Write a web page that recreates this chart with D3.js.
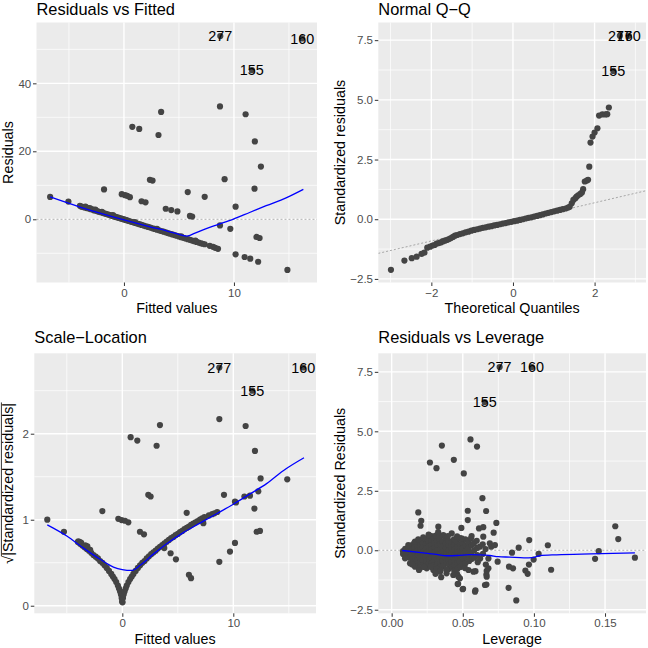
<!DOCTYPE html>
<html><head><meta charset="utf-8">
<script src="https://cdn.jsdelivr.net/npm/d3@7"></script>
<style>
body{margin:0;background:#fff}
svg{display:block}
text{font-family:"Liberation Sans",Arial,Helvetica,sans-serif}
</style>
</head><body>
<svg id="chart" width="648" height="648"></svg>
<script>
// ---------- DATA ----------
const outlierIds = ["277", "155", "160"];

// Panel 1: Residuals vs Fitted  [fitted, residual]
const rvfPoints = [
 [-6.71,6.57],[-5.05,5.2],[-1.81,8.8],[0.76,27.2],[1.39,26.6],[3.38,31.6],[3.14,24.8],[2.36,11.6],[2.6,11.4],
 [-0.2,7.4],[0.1,7.1],[0.3,6.9],[0.54,6.5],[1.6,5.3],[1.96,5.0],[3.8,3.1],[4.3,2.7],[4.86,2.3],[6.0,1.0],[6.2,0.8],
 [5.8,8.0],[7.34,6.6],[8.73,33.2],[9.15,11.8],[8.73,-1.8],[9.67,-2.8],[10.15,3.7],[10.15,-10.3],[11.06,30.9],
 [10.97,-11.1],[11.48,-11.6],[11.9,22.9],[11.87,9.0],[12.05,-5.2],[12.33,-5.5],[12.45,15.5],[12.2,-12.5],[14.86,-14.9],
 [-4.0,3.95],[-3.85,3.7],[-3.7,3.6],[-3.55,3.5],[-3.4,3.3],[-3.3,3.35],[-3.15,3.1],[-3.0,2.95],[-2.85,2.9],[-2.7,2.6],
 [-2.55,2.55],[-2.4,2.35],[-2.25,2.2],[-2.1,2.1],[-1.95,1.9],[-1.8,1.75],[-1.65,1.6],[-1.5,1.45],[-1.35,1.3],[-1.2,1.15],
 [-1.05,1.0],[-0.9,0.85],[-0.75,0.7],[-0.6,0.55],[-0.45,0.4],[-0.3,0.25],[-0.15,0.1],[0.0,-0.05],[0.15,-0.2],[0.3,-0.35],
 [0.45,-0.5],[0.6,-0.65],[0.75,-0.8],[0.9,-0.95],[1.05,-1.1],[1.2,-1.25],[1.4,-1.45],[1.6,-1.65],[1.8,-1.85],[2.0,-2.05],
 [2.2,-2.25],[2.4,-2.45],[2.6,-2.65],[2.8,-2.85],[3.0,-3.05],[3.2,-3.25],[3.4,-3.45],[3.6,-3.65],[3.8,-3.85],[4.0,-4.05],
 [4.2,-4.25],[4.4,-4.45],[4.6,-4.65],[4.8,-4.85],[5.0,-5.05],[5.2,-5.25],[5.4,-5.45],[5.6,-5.65],[5.8,-5.85],[6.0,-6.05],
 [6.2,-6.25],[6.4,-6.45],[6.6,-6.65],[6.8,-6.85],[7.0,-7.05],[7.15,-7.2],[7.34,-7.35],[7.8,-7.8],[8.1,-8.1],[8.3,-8.4],[8.55,-8.7],
 [-3.5,3.75],[-3.1,3.3],[-2.6,2.85],[-2.0,2.2],[-1.0,1.2],[1.0,-0.85],[3.0,-2.85],[5.2,-5.05],[6.5,-6.3]
];
const rvfOutliers = [[8.76,53.9],[11.63,43.9],[16.2,53.2]];
const rvfSmooth = [[-6.71,6.57],[-4.0,3.6],[-2.18,1.8],[0,-0.2],[2.36,-2.2],[3.87,-3.4],[5.08,-4.5],[5.4,-4.8],[5.68,-4.95],
 [6.0,-4.75],[6.4,-4.15],[7.19,-3.1],[8.4,-1.7],[9.9,0],[11.42,2.0],[12.93,4.0],[14.74,6.3],[16.31,8.8]];
const fittedTicks = [0, 10];
const residTicks = [0, 20, 40];

// Panel 2: Normal Q-Q  [theoretical quantile, standardized residual]
const qqPoints = [
 [-2.99,-2.12],[-2.66,-1.73],[-2.48,-1.63],[-2.36,-1.57],[-2.24,-1.45],[-2.17,-1.40],[-2.1,-1.19],[-2.03,-1.15],[-1.97,-1.1],
 [-1.92,-1.08],[-1.87,-1.02],[-1.82,-1.0],[-1.77,-0.97],[-1.72,-0.93],[-1.67,-0.9],[-1.62,-0.87],[-1.57,-0.83],[-1.52,-0.79],
 [-1.47,-0.74],[-1.42,-0.69],[-1.37,-0.66],[-1.3,-0.62],[-1.23,-0.59],[-1.16,-0.55],[-1.09,-0.52],[-1.02,-0.48],[-0.95,-0.45],
 [-0.88,-0.42],[-0.81,-0.39],[-0.74,-0.36],[-0.67,-0.34],[-0.6,-0.31],[-0.53,-0.29],[-0.46,-0.26],[-0.39,-0.24],[-0.32,-0.21],
 [-0.25,-0.18],[-0.18,-0.16],[-0.11,-0.13],[-0.04,-0.11],[0.03,-0.08],[0.1,-0.06],[0.17,-0.03],[0.24,0.0],[0.31,0.03],
 [0.38,0.06],[0.45,0.08],[0.52,0.11],[0.59,0.14],[0.66,0.17],[0.73,0.2],[0.8,0.24],[0.87,0.27],[0.94,0.3],[1.01,0.33],
 [1.08,0.36],[1.15,0.39],[1.22,0.42],[1.29,0.45],[1.35,0.49],[1.39,0.52],
 [1.44,0.67],[1.48,0.81],[1.53,0.88],[1.56,0.95],[1.6,1.0],[1.65,1.06],[1.69,1.12],[1.72,1.26],[1.76,1.58],[1.81,1.62],
 [1.84,1.65],[1.87,2.2],[1.9,3.21],[1.95,3.46],[2.0,3.63],[2.07,3.81],[2.11,4.34],[2.19,4.39],[2.27,4.39],[2.31,4.4],[2.35,4.68]
];
const qqOutliers = [[2.62,7.68],[2.46,6.21],[2.84,7.68]];
const qqLine = [-0.11, 0.40]; // intercept, slope
const qqXTicks = [-2, 0, 2];
const stdTicks = [-2.5, 0, 2.5, 5, 7.5];

// Panel 3: Scale-Location  [fitted, sqrt(|standardized residual|)]
const slPoints = [
 [-6.76,1.0],[-5.26,0.86],[-3.96,0.75],[-3.81,0.74],[-3.36,0.70],[-3.15,0.69],[-1.8,1.1],[-0.36,1.01],[-0.06,0.996],
 [0.24,0.988],[0.54,0.97],[0.75,1.96],[1.35,1.92],[3.09,1.86],[3.39,2.1],[2.34,1.29],[2.55,1.27],[1.59,0.86],[1.95,0.83],
 [3.78,0.67],[4.35,0.61],[4.83,0.54],[6.0,0.36],[6.19,0.32],[5.8,1.08],[7.3,0.96],[8.74,2.17],[9.16,1.29],[8.74,0.51],
 [9.7,0.63],[10.15,1.21],[10.24,1.2],[10.15,0.73],[11.11,2.09],[11.0,1.27],[11.5,1.28],[11.95,1.8],[11.9,1.13],[12.1,0.86],
 [12.4,0.87],[12.25,1.33],[12.46,1.48],[14.86,1.47],
 [-4.0,0.74],[-3.8,0.72],[-3.6,0.70],[-3.4,0.68],[-3.2,0.66],[-3.0,0.64],[-2.8,0.615],[-2.6,0.59],[-2.4,0.57],[-2.2,0.55],
 [-2.0,0.52],[-1.8,0.50],[-1.6,0.47],[-1.4,0.44],[-1.2,0.405],[-1.0,0.37],[-0.85,0.34],[-0.7,0.31],[-0.55,0.275],[-0.4,0.235],
 [-0.3,0.2],[-0.2,0.165],[-0.12,0.13],[-0.06,0.09],[-0.02,0.05],[0.02,0.04],[0.06,0.09],[0.12,0.13],[0.2,0.165],[0.3,0.2],
 [0.4,0.235],[0.55,0.275],[0.7,0.31],[0.85,0.34],[1.0,0.37],[1.2,0.405],[1.4,0.44],[1.6,0.47],[1.8,0.50],[2.0,0.52],
 [2.2,0.55],[2.4,0.575],[2.6,0.6],[2.8,0.62],[3.0,0.64],[3.2,0.665],[3.4,0.685],[3.6,0.705],[3.8,0.725],[4.0,0.745],
 [4.2,0.765],[4.4,0.785],[4.6,0.80],[4.8,0.82],[5.0,0.835],[5.2,0.855],[5.4,0.87],[5.6,0.89],[5.8,0.905],[6.0,0.92],
 [6.2,0.94],[6.4,0.955],[6.6,0.97],[6.8,0.985],[7.0,1.0],[7.2,1.015],[7.4,1.03],[7.8,1.05],[8.1,1.065],[8.3,1.075],[8.55,1.09],
 [-3.7,0.73],[-3.3,0.70],[-2.9,0.65]
];
const slOutliers = [[8.74,2.77],[11.71,2.5],[16.3,2.77]];
const slSmooth = [[-6.76,0.94],[-5.0,0.81],[-3.5,0.67],[-2.0,0.54],[-0.8,0.45],[0,0.42],[0.84,0.41],[1.6,0.47],[2.8,0.6],
 [4.0,0.72],[5.5,0.85],[7.0,0.96],[8.5,1.07],[10.0,1.18],[11.5,1.3],[13.0,1.42],[14.5,1.57],[16.37,1.72]];
const slYTicks = [0, 1, 2];

// Panel 4: Residuals vs Leverage  [leverage, standardized residual]
const rvlPoints = [
 [0.008,-0.04],[0.008,-0.16],[0.0095,0.06],[0.0098,-0.1],[0.010,-0.26],
 [0.0118,0.13],[0.012,-0.04],[0.0122,-0.2],[0.0125,-0.31],
 [0.0138,0.21],[0.014,0.03],[0.0142,-0.14],[0.0145,-0.36],
 [0.0158,0.3],[0.016,0.1],[0.0162,-0.08],[0.0165,-0.26],[0.0168,-0.46],
 [0.0178,0.36],[0.018,0.16],[0.0182,-0.02],[0.0185,-0.21],[0.0178,-0.41],[0.0183,-0.56],
 [0.0198,0.42],[0.020,0.23],[0.0202,0.05],[0.0205,-0.13],[0.0199,-0.31],[0.0203,-0.5],
 [0.0218,0.31],[0.022,0.12],[0.0222,-0.06],[0.0225,-0.23],[0.0219,-0.43],[0.0221,-0.62],
 [0.0238,0.46],[0.024,0.26],[0.0242,0.08],[0.0245,-0.11],[0.0239,-0.29],[0.0243,-0.49],
 [0.0258,0.52],[0.026,0.35],[0.0262,0.16],[0.0265,-0.02],[0.0259,-0.19],[0.0263,-0.39],[0.026,-0.58],
 [0.0278,0.41],[0.028,0.21],[0.0282,0.03],[0.0285,-0.15],[0.0279,-0.33],[0.0283,-0.53],[0.028,-0.7],
 [0.0298,0.49],[0.030,0.3],[0.0302,0.11],[0.0305,-0.08],[0.0299,-0.26],[0.0303,-0.45],[0.030,-0.63],
 [0.0318,0.38],[0.032,0.19],[0.0322,0.0],[0.0325,-0.18],[0.0319,-0.38],[0.0323,-0.58],
 [0.0338,0.46],[0.034,0.26],[0.0342,0.05],[0.0345,-0.12],[0.0339,-0.31],[0.0343,-0.5],[0.034,-0.7],
 [0.0358,0.36],[0.036,0.15],[0.0362,-0.05],[0.0365,-0.25],[0.0359,-0.45],[0.0363,-0.66],
 [0.0378,0.5],[0.038,0.28],[0.0382,0.08],[0.0385,-0.12],[0.0379,-0.32],[0.0383,-0.53],
 [0.0398,0.41],[0.040,0.2],[0.0402,0.0],[0.0405,-0.2],[0.0399,-0.41],[0.0403,-0.6],[0.040,-0.79],
 [0.0418,0.31],[0.042,0.1],[0.0422,-0.1],[0.0425,-0.3],[0.0419,-0.5],[0.0423,-0.71],
 [0.0438,0.46],[0.044,0.22],[0.0442,0.02],[0.0445,-0.2],[0.0439,-0.42],[0.0443,-0.63],[0.044,-0.86],
 [0.0458,0.36],[0.046,0.12],[0.0462,-0.08],[0.0465,-0.31],[0.0459,-0.55],[0.0463,-0.78],[0.046,-1.0],
 [0.0478,0.51],[0.048,0.25],[0.0482,0.02],[0.0485,-0.21],[0.0479,-0.46],[0.0483,-0.7],
 [0.0498,0.31],[0.050,0.08],[0.0502,-0.15],[0.0505,-0.38],[0.0499,-0.6],
 [0.0518,0.46],[0.052,0.2],[0.0522,-0.05],[0.0525,-0.3],[0.0519,-0.55],
 [0.0538,0.35],[0.054,0.1],[0.0542,-0.2],[0.0545,-0.45],
 [0.0558,0.5],[0.056,0.2],[0.0562,-0.1],[0.0565,-0.36],
 [0.0578,0.3],[0.058,0.0],[0.0582,-0.3],
 [0.0598,0.4],[0.060,0.1],[0.0602,-0.2],[0.0605,-0.5],
 [0.062,0.15],[0.0622,-0.35],[0.064,0.25],[0.0642,-0.15],[0.066,0.05],[0.0662,-0.6],[0.068,-0.35],[0.070,0.15],
 [0.0117,0.22],[0.0164,0.36],[0.0187,0.46],[0.0222,0.54],[0.0281,0.6],[0.0363,0.64],[0.0422,0.71],[0.0492,0.5],
 [0.0562,0.6],[0.0644,0.57],[0.031,0.62],[0.046,0.58],[0.026,0.66],[0.0335,0.57],[0.0395,0.6],
 [0.0094,-0.34],[0.0129,-0.55],[0.0164,-0.69],[0.0199,-0.76],[0.0246,-0.76],[0.0293,-0.83],[0.034,-0.9],[0.0386,-0.97],
 [0.0433,-1.04],[0.0469,-1.11],[0.054,-0.83],[0.0515,-0.75],[0.0385,-0.8],[0.0275,-0.68],[0.0228,-0.7],[0.0318,-0.78],
 [0.0187,1.59],[0.0208,1.24],[0.0203,1.03],[0.0269,3.69],[0.0315,3.45],[0.0353,4.4],[0.0437,3.8],[0.0507,3.23],
 [0.0554,4.66],[0.06,4.36],[0.0638,2.19],[0.0535,1.66],[0.0535,1.27],[0.049,0.94],[0.0328,0.99],[0.0327,0.76],
 [0.0664,1.65],[0.0614,0.92],[0.0644,0.97],[0.0736,1.15],[0.0717,0.74],[0.069,0.29],[0.0726,0.22],[0.0745,-0.48],
 [0.0846,-0.1],[0.0893,0.11],[0.0967,0.43],[0.0965,-0.6],[0.094,-0.85],[0.0956,-0.99],[0.1033,-0.15],[0.0998,-0.39],
 [0.1098,0.21],[0.1121,-0.82],[0.0825,-0.69],[0.0853,-0.76],[0.0822,-1.58],[0.0876,-2.11],[0.0589,-1.69],[0.0502,-1.62],
 [0.0467,-1.41],[0.048,-1.18],[0.0589,-0.88],[0.0575,-0.9],[0.0666,-1.02],[0.0668,-0.87],[0.068,-0.76],[0.0666,-1.44],
 [0.0668,-1.11],[0.0308,-0.99],[0.0348,-1.13],[0.0345,-0.83],[0.0145,-0.6],[0.0192,-0.83],[0.143,-0.36],[0.1456,-0.04],
 [0.1572,1.01],[0.1593,0.47],[0.171,-0.31],[0.0656,-1.46],[0.0586,-1.74],[0.0499,-1.64],[0.0464,-1.42]
];
const rvlOutliers = [[0.0759,7.7],[0.0654,6.23],[0.0986,7.7]];
const rvlSmooth = [[0.0074,-0.01],[0.0222,-0.11],[0.03,-0.16],[0.039,-0.23],[0.046,-0.22],[0.055,-0.18],[0.062,-0.19],
 [0.069,-0.22],[0.075,-0.27],[0.083,-0.29],[0.093,-0.32],[0.099,-0.31],[0.104,-0.23],[0.116,-0.19],[0.14,-0.15],[0.171,-0.11]];
const levTicks = [0, 0.05, 0.10, 0.15];

// ---------- DRAWING ----------
const svg = d3.select("#chart");
const FONT = '"Liberation Sans",Arial,Helvetica,sans-serif';

function panel(o) {
  const g = svg.append("g");
  const x = d3.scaleLinear().domain(o.xd).range([o.l, o.r]);
  const y = d3.scaleLinear().domain(o.yd).range([o.b, o.t]);

  g.append("rect").attr("x", o.l).attr("y", o.t)
    .attr("width", o.r - o.l).attr("height", o.b - o.t).attr("fill", "#EBEBEB");

  const grid = g.append("g");
  grid.selectAll(".vmin").data(o.xMinor).join("line")
    .attr("x1", d => x(d)).attr("x2", d => x(d)).attr("y1", o.t).attr("y2", o.b)
    .attr("stroke", "#fff").attr("stroke-width", 0.7);
  grid.selectAll(".hmin").data(o.yMinor).join("line")
    .attr("y1", d => y(d)).attr("y2", d => y(d)).attr("x1", o.l).attr("x2", o.r)
    .attr("stroke", "#fff").attr("stroke-width", 0.7);
  grid.selectAll(".vmaj").data(o.xTicks).join("line")
    .attr("x1", d => x(d)).attr("x2", d => x(d)).attr("y1", o.t).attr("y2", o.b)
    .attr("stroke", "#fff").attr("stroke-width", 1.4);
  grid.selectAll(".hmaj").data(o.yTicks).join("line")
    .attr("y1", d => y(d)).attr("y2", d => y(d)).attr("x1", o.l).attr("x2", o.r)
    .attr("stroke", "#fff").attr("stroke-width", 1.4);

  const cid = "clip" + o.id;
  svg.append("clipPath").attr("id", cid).append("rect")
    .attr("x", o.l).attr("y", o.t).attr("width", o.r - o.l).attr("height", o.b - o.t);
  const pg = g.append("g").attr("clip-path", `url(#${cid})`);

  if (o.hline !== undefined) {
    pg.append("line").attr("x1", o.l).attr("x2", o.r).attr("y1", y(o.hline)).attr("y2", y(o.hline))
      .attr("stroke", "#888").attr("stroke-width", 0.7).attr("stroke-dasharray", "2,2");
  }
  if (o.abline) {
    const [a, b] = o.abline;
    pg.append("line").attr("x1", x(o.xd[0])).attr("x2", x(o.xd[1]))
      .attr("y1", y(a + b * o.xd[0])).attr("y2", y(a + b * o.xd[1]))
      .attr("stroke", "#888").attr("stroke-width", 0.7).attr("stroke-dasharray", "2,2");
  }

  pg.selectAll("circle.pt").data(o.points).join("circle").attr("class", "pt")
    .attr("cx", d => x(d[0])).attr("cy", d => y(d[1])).attr("r", 3.1).attr("fill", "#444");
  pg.selectAll("circle.out").data(o.outliers).join("circle").attr("class", "out")
    .attr("cx", d => x(d[0])).attr("cy", d => y(d[1])).attr("r", 3.1).attr("fill", "#444");

  if (o.smooth) {
    pg.append("path").datum(o.smooth)
      .attr("d", d3.line().x(d => x(d[0])).y(d => y(d[1])).curve(d3.curveMonotoneX))
      .attr("fill", "none").attr("stroke", "#0000FF").attr("stroke-width", 1.3);
  }
  pg.selectAll("text.lab").data(o.outliers).join("text").attr("class", "lab")
    .attr("x", d => x(d[0])).attr("y", d => y(d[1])).attr("dy", "0.36em")
    .attr("text-anchor", "middle").style("font-size", "14.4px").attr("fill", "#000")
    .text((d, i) => outlierIds[i]);

  // axes
  const xa = g.append("g").attr("transform", `translate(0,${o.b})`)
    .call(d3.axisBottom(x).tickValues(o.xTicks).tickFormat(o.xFmt).tickSize(3.5).tickPadding(2.4));
  const ya = g.append("g").attr("transform", `translate(${o.l},0)`)
    .call(d3.axisLeft(y).tickValues(o.yTicks).tickFormat(o.yFmt).tickSize(3.5).tickPadding(1.8));
  [xa, ya].forEach(a => {
    a.select(".domain").remove();
    a.selectAll(".tick line").attr("stroke", "#333").attr("stroke-width", 1);
    a.selectAll(".tick text").attr("fill", "#4D4D4D").style("font-size", "11.5px").style("font-family", FONT);
  });

  // titles
  svg.append("text").attr("x", o.l).attr("y", o.tty).style("font-size", "16.4px").attr("fill", "#000").text(o.title);
  svg.append("text").attr("x", (o.l + o.r) / 2).attr("y", o.xty).attr("text-anchor", "middle")
    .style("font-size", "14.3px").attr("fill", "#000").text(o.xTitle);
  const tr = `translate(${o.ytx},${(o.t + o.b) / 2}) rotate(-90)`;
  const yt = svg.append("text").attr("transform", tr)
    .attr("text-anchor", "middle").style("font-size", "14.3px").attr("fill", "#000");
  if (o.sqrtTitle) {
    const s1 = yt.append("tspan").text("\u221A");
    yt.append("tspan").text(o.yTitle);
    const L = yt.node().getComputedTextLength();
    const Ls = s1.node().getComputedTextLength();
    svg.append("line").attr("transform", tr)
      .attr("x1", -L / 2 + Ls - 0.5).attr("x2", L / 2 + 0.5).attr("y1", -11.6).attr("y2", -11.6)
      .attr("stroke", "#000").attr("stroke-width", 0.8);
  } else {
    yt.text(o.yTitle);
  }
}

const f0 = d3.format("d"), f1 = d3.format(".1f"), f2 = d3.format(".2f");

panel({ id: 1, l: 36.5, r: 317, t: 22.5, b: 282.5, xd: [-7.95, 17.55], yd: [-18.6, 57.9],
  xTicks: fittedTicks, xMinor: [-5, 5, 15], yTicks: residTicks, yMinor: [-10, 10, 30, 50],
  xFmt: f0, yFmt: f0, points: rvfPoints, outliers: rvfOutliers, smooth: rvfSmooth, hline: 0,
  title: "Residuals vs Fitted", xTitle: "Fitted values", yTitle: "Residuals", tty: 14.8, xty: 313, ytx: 13 });

panel({ id: 2, l: 378.3, r: 646, t: 22.5, b: 282.5, xd: [-3.30, 3.26], yd: [-2.65, 8.24],
  xTicks: qqXTicks, xMinor: [-3, -1, 1, 3], yTicks: stdTicks, yMinor: [-1.25, 1.25, 3.75, 6.25],
  xFmt: f0, yFmt: f1, points: qqPoints, outliers: qqOutliers, abline: qqLine,
  title: "Normal Q\u2212Q", xTitle: "Theoretical Quantiles", yTitle: "Standardized residuals", tty: 14.8, xty: 313, ytx: 344.5 });

panel({ id: 3, l: 34.3, r: 316, t: 353.3, b: 613.3, xd: [-7.93, 17.45], yd: [-0.088, 2.935],
  xTicks: fittedTicks, xMinor: [-5, 5, 15], yTicks: slYTicks, yMinor: [0.5, 1.5, 2.5],
  xFmt: f0, yFmt: f0, points: slPoints, outliers: slOutliers, smooth: slSmooth,
  title: "Scale\u2212Location", xTitle: "Fitted values", yTitle: "|Standardized residuals|", sqrtTitle: true, tty: 343.3, xty: 644, ytx: 13 });

panel({ id: 4, l: 378.3, r: 646, t: 353.3, b: 613.3, xd: [-0.0094, 0.1788], yd: [-2.65, 8.28],
  xTicks: levTicks, xMinor: [0.025, 0.075, 0.125], yTicks: stdTicks, yMinor: [-1.25, 1.25, 3.75, 6.25],
  xFmt: f2, yFmt: f1, points: rvlPoints, outliers: rvlOutliers, smooth: rvlSmooth, hline: 0,
  title: "Residuals vs Leverage", xTitle: "Leverage", yTitle: "Standardized Residuals", tty: 343.3, xty: 644, ytx: 344.5 });
</script>
</body></html>
